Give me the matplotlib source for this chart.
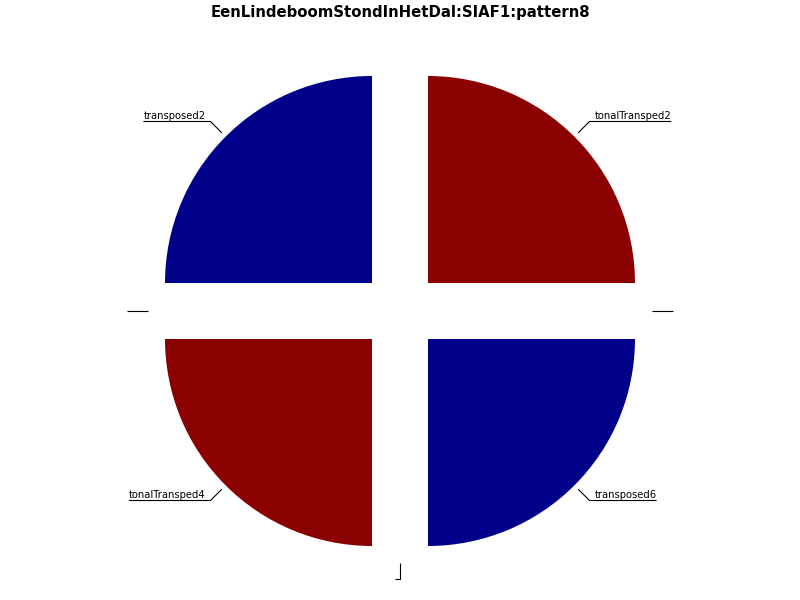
import numpy as np
import matplotlib
matplotlib.use("Agg")
import matplotlib.pyplot as plt

title = "EenLindeboomStondInHetDal:SIAF1:pattern8"
labels = ["", "tonalTransped2", "transposed2", "", "tonalTransped4", "", "transposed6"]
values = [0, 1, 1, 0, 1, 0, 1]
colors = ["#8B0000", "#8B0000", "#00008B", "#8B0000", "#8B0000", "#00008B", "#00008B"]

fig = plt.figure(figsize=(8, 6), dpi=100)
ax = fig.add_axes([0, 0, 1, 1])

cx, cy = 400, 289
radius = 207
expl = 39.6
ax.pie(values, colors=colors, startangle=0, counterclock=True,
       center=(cx, cy), radius=radius, explode=[expl] * len(values),
       wedgeprops=dict(linewidth=0), frame=True)
ax.set_xlim(0, 800)
ax.set_ylim(0, 600)
ax.set_aspect("auto")
ax.axis("off")

fig.canvas.draw()
renderer = fig.canvas.get_renderer()

total = sum(values)
start = 0.0
r_in, r_out = 252, 268
for v, lab in zip(values, labels):
    th = np.deg2rad(360 * (start + v / 2) / total)
    start += v
    x0, y0 = cx + r_in * np.cos(th), cy + r_in * np.sin(th)
    x1, y1 = cx + r_out * np.cos(th), cy + r_out * np.sin(th)
    right = np.cos(th) >= 0
    w = 0
    if lab:
        t = ax.text(x1 + (5 if right else -5), y1 + 0.5, lab, fontsize=7.2,
                    ha="left" if right else "right", va="bottom", color="black")
        w = t.get_window_extent(renderer).width
    x2 = x1 + (5 + w) * (1 if right else -1)
    ax.plot([x0, x1, x2], [y0, y1, y1], color="black", lw=0.8, solid_capstyle="butt")

ax.text(400, 588, title, fontsize=10.75, fontweight="bold", ha="center", va="center")

fig.savefig("out.png", dpi=100)
